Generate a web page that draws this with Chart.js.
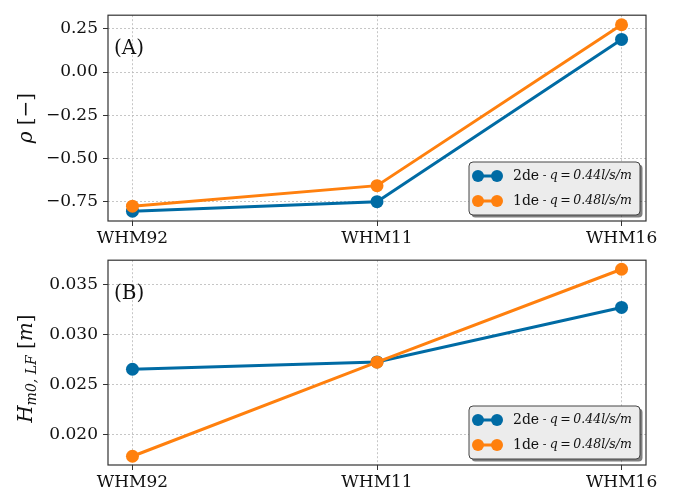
<!DOCTYPE html>
<html>
<head>
<meta charset="utf-8">
<script src="https://cdn.jsdelivr.net/npm/chart.js@4.4.1/dist/chart.umd.min.js"></script>
<style>
  body { margin: 0; background: #fff; }
  canvas { position: absolute; left: 0; }
</style>
</head>
<body>
<canvas id="painelA" width="675" height="245" style="top:0"></canvas>
<canvas id="painelB" width="675" height="245" style="top:245px"></canvas>
<script>
// dados
const sites = ['WHM92', 'WHM11', 'WHM16'];
const rho2de = [-0.807, -0.752, 0.189];
const rho1de = [-0.778, -0.659, 0.274];
const hm2de = [0.02651, 0.02724, 0.03271];
const hm1de = [0.01778, 0.02722, 0.03654];
const rhoTicks = [-0.75, -0.5, -0.25, 0, 0.25];
const hmTicks = [0.020, 0.025, 0.030, 0.035];
const labels2de = ['2de', 'q\u2009=\u20090.44l/s/m'];
const labels1de = ['1de', 'q\u2009=\u20090.48l/s/m'];

const azul = '#006BA4';
const laranja = '#FF800E';
const serif = "'DejaVu Serif', serif";

function pontos(vals) {
    return vals.map((v, i) => ({ x: i, y: v }));
}

function fmt(v, casas) {
    return v.toFixed(casas).replace('-', '\u2212');
}

const painel = {
    id: 'painel',
    afterDraw(chart, args, o) {
        const ctx = chart.ctx;
        const a = chart.chartArea;
        ctx.save();

        // moldura
        ctx.strokeStyle = '#333';
        ctx.lineWidth = 1.2;
        ctx.strokeRect(a.left, a.top, a.right - a.left, a.bottom - a.top);

        // letra do painel
        ctx.fillStyle = '#111';
        ctx.font = '20px ' + serif;
        ctx.textBaseline = 'middle';
        ctx.textAlign = 'left';
        ctx.fillText(o.letra, a.left + 6, a.top + 34);

        // titulo do eixo y (com subscrito)
        ctx.save();
        ctx.translate(27, (a.top + a.bottom) / 2 + o.ajusteTitulo);
        ctx.rotate(-Math.PI / 2);
        let total = 0;
        o.titulo.forEach(p => {
            ctx.font = p.f;
            total += ctx.measureText(p.t).width;
        });
        let x = -total / 2;
        o.titulo.forEach(p => {
            ctx.font = p.f;
            ctx.fillText(p.t, x, p.dy || 0);
            x += ctx.measureText(p.t).width;
        });
        ctx.restore();

        // legenda
        const w = 171, h = 53;
        const lx = a.right - 6 - w, ly = a.bottom - 6 - h;
        ctx.fillStyle = 'rgba(0,0,0,0.5)';
        ctx.beginPath();
        ctx.roundRect(lx + 2.5, ly + 2.5, w, h, 4);
        ctx.fill();
        ctx.fillStyle = '#ececec';
        ctx.strokeStyle = '#444';
        ctx.lineWidth = 1;
        ctx.beginPath();
        ctx.roundRect(lx, ly, w, h, 4);
        ctx.fill();
        ctx.stroke();

        const itens = [[azul, labels2de], [laranja, labels1de]];
        itens.forEach((it, k) => {
            const y = ly + 14 + k * 25;
            ctx.strokeStyle = it[0];
            ctx.fillStyle = it[0];
            ctx.lineWidth = 3;
            ctx.beginPath();
            ctx.moveTo(lx + 9, y);
            ctx.lineTo(lx + 28, y);
            ctx.stroke();
            [lx + 9, lx + 28].forEach(cx => {
                ctx.beginPath();
                ctx.arc(cx, y, 6, 0, Math.PI * 2);
                ctx.fill();
            });
            ctx.fillStyle = '#111';
            let tx = lx + 44;
            ctx.font = '14px ' + serif;
            ctx.fillText(it[1][0], tx, y);
            tx += ctx.measureText(it[1][0]).width;
            ctx.font = '11px ' + serif;
            ctx.fillText(' - ', tx, y);
            tx += ctx.measureText(' - ').width;
            ctx.font = 'italic 12.5px ' + serif;
            ctx.fillText(it[1][1], tx, y);
        });

        ctx.restore();
    }
};

function grafico(id, s2, s1, yMin, yMax, ticks, casas, opcoes, padTop, alturaX) {
    return new Chart(document.getElementById(id), {
        type: 'line',
        data: {
            datasets: [{
                label: '2de',
                data: pontos(s2),
                borderColor: azul,
                backgroundColor: azul,
                borderWidth: 3,
                pointRadius: 6.5,
                pointBorderWidth: 0,
                order: 1
            }, {
                label: '1de',
                data: pontos(s1),
                borderColor: laranja,
                backgroundColor: laranja,
                borderWidth: 3,
                pointRadius: 6.5,
                pointBorderWidth: 0,
                order: 0
            }]
        },
        plugins: [painel],
        options: {
            responsive: false,
            animation: false,
            layout: { padding: { top: padTop, right: 29, left: 0, bottom: 0 } },
            plugins: {
                legend: { display: false },
                tooltip: { enabled: false },
                painel: opcoes
            },
            scales: {
                x: {
                    type: 'linear',
                    min: -0.1,
                    max: 2.1,
                    afterBuildTicks: s => { s.ticks = sites.map((_, i) => ({ value: i })); },
                    afterFit: s => { s.height = alturaX; },
                    ticks: {
                        color: '#111',
                        font: { family: serif, size: 17 },
                        padding: 2,
                        maxRotation: 0,
                        callback: v => sites[v]
                    },
                    grid: {
                        color: '#b8b8b8',
                        lineWidth: 0.8,
                        tickLength: 5,
                        tickColor: '#333',
                        tickWidth: 1,
                        tickBorderDash: [1, 0]
                    },
                    border: { display: false, dash: [2, 2] }
                },
                y: {
                    min: yMin,
                    max: yMax,
                    afterBuildTicks: s => { s.ticks = ticks.map(v => ({ value: v })); },
                    afterFit: s => { s.width = 108; },
                    ticks: {
                        color: '#111',
                        font: { family: serif, size: 17 },
                        padding: 5,
                        callback: v => fmt(v, casas)
                    },
                    grid: {
                        color: '#b8b8b8',
                        lineWidth: 0.8,
                        tickLength: 5,
                        tickColor: '#333',
                        tickWidth: 1,
                        tickBorderDash: [1, 0]
                    },
                    border: { display: false, dash: [2, 2] }
                }
            }
        }
    });
}

grafico('painelA', rho2de, rho1de, -0.864, 0.3295, rhoTicks, 2, {
    letra: '(A)',
    ajusteTitulo: 0,
    titulo: [
        { t: '\u03C1', f: 'italic 20px ' + serif },
        { t: ' [\u2212]', f: '20px ' + serif }
    ]
}, 11, 24);

grafico('painelB', hm2de, hm1de, 0.0169, 0.03745, hmTicks, 3, {
    letra: '(B)',
    ajusteTitulo: 6,
    titulo: [
        { t: 'H', f: 'italic 20px ' + serif },
        { t: 'm0, LF', f: 'italic 14px ' + serif, dy: 5 },
        { t: ' [', f: '20px ' + serif },
        { t: 'm', f: 'italic 20px ' + serif },
        { t: ']', f: '20px ' + serif }
    ]
}, 10, 25);
</script>
</body>
</html>
